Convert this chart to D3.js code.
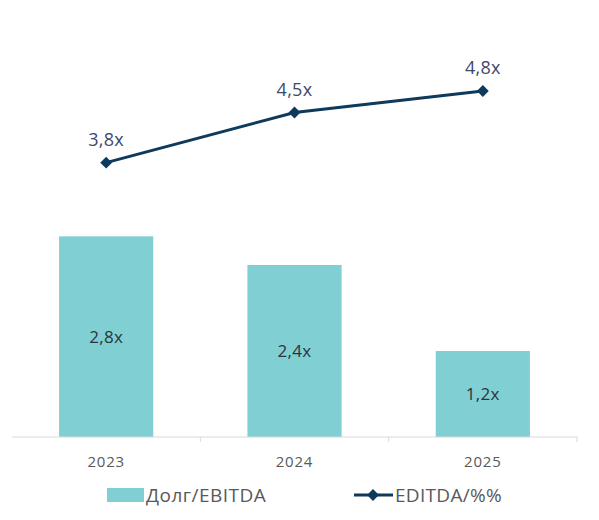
<!DOCTYPE html>
<html>
<head>
<meta charset="utf-8">
<script src="https://cdn.jsdelivr.net/npm/d3@7"></script>
<style>
  body { margin: 0; background: #fff; }
  text { font-family: "Open Sans", Lato, sans-serif; }
</style>
</head>
<body>
<svg id="chart"></svg>
<script>
// Debt/EBITDA bars with EBITDA line on top

const years = ["2023", "2024", "2025"];
const debtEbitda = [2.8, 2.4, 1.2];
const ebitdaLine = [3.8, 4.5, 4.8];
const barLabels = ["2,8x", "2,4x", "1,2x"];
const lineLabels = ["3,8x", "4,5x", "4,8x"];
const legendNames = ["Долг/EBITDA", "EDITDA/%%"];

const W = 599, H = 520;
const margin = { top: 7, right: 22, bottom: 83, left: 12 };
const width = W - margin.left - margin.right;
const height = H - margin.top - margin.bottom;

const barColor = "#80cfd2";
const lineColor = "#0e3a5c";

const svg = d3.select("#chart")
    .attr("width", W)
    .attr("height", H)
  .append("g")
    .attr("transform", "translate(" + margin.left + "," + margin.top + ")");

const x = d3.scaleBand()
    .domain(years)
    .range([0, width])
    .paddingInner(0.5)
    .paddingOuter(0.25);

// both series share one scale in the original
const y = d3.scaleLinear()
    .domain([0, 6])
    .range([height, 0]);

// bars
svg.selectAll("rect.bar")
  .data(debtEbitda)
  .enter()
  .append("rect")
    .attr("class", "bar")
    .attr("x", (d, i) => x(years[i]))
    .attr("y", d => y(d))
    .attr("width", x.bandwidth())
    .attr("height", d => height - y(d))
    .attr("fill", barColor);

svg.selectAll("text.barlab")
  .data(debtEbitda)
  .enter()
  .append("text")
    .attr("class", "barlab")
    .attr("x", (d, i) => x(years[i]) + x.bandwidth() / 2)
    .attr("y", d => (y(d) + height) / 2)
    .attr("dy", "0.35em")
    .attr("text-anchor", "middle")
    .style("font-size", "17px")
    .style("letter-spacing", "0.3px")
    .attr("fill", "#2b3440")
    .text((d, i) => barLabels[i]);

// x axis: baseline with ticks between categories
const axis = svg.append("g")
    .attr("transform", "translate(0," + height + ")");

axis.append("line")
    .attr("x1", 0).attr("x2", width)
    .attr("stroke", "#d9d9d9");

const step = x.step();
axis.selectAll("line.tick")
  .data(years)
  .enter()
  .append("line")
    .attr("class", "tick")
    .attr("x1", (d, i) => (i + 1) * step)
    .attr("x2", (d, i) => (i + 1) * step)
    .attr("y1", 0).attr("y2", 5)
    .attr("stroke", "#d9d9d9");

axis.selectAll("text")
  .data(years)
  .enter()
  .append("text")
    .attr("x", d => x(d) + x.bandwidth() / 2)
    .attr("y", 30)
    .attr("text-anchor", "middle")
    .style("font-size", "15px")
    .style("letter-spacing", "0.8px")
    .attr("fill", "#595959")
    .text(d => d);

// line series
const line = d3.line()
    .x((d, i) => x(years[i]) + x.bandwidth() / 2)
    .y(d => y(d) - 2);

svg.append("path")
    .datum(ebitdaLine)
    .attr("d", line)
    .attr("fill", "none")
    .attr("stroke", lineColor)
    .attr("stroke-width", 3);

const diamond = d3.symbol().type(d3.symbolSquare).size(70);

svg.selectAll("path.pt")
  .data(ebitdaLine)
  .enter()
  .append("path")
    .attr("class", "pt")
    .attr("d", diamond)
    .attr("transform", (d, i) => "translate(" + (x(years[i]) + x.bandwidth() / 2) + "," + (y(d) - 2) + ") rotate(45)")
    .attr("fill", lineColor);

svg.selectAll("text.linelab")
  .data(ebitdaLine)
  .enter()
  .append("text")
    .attr("class", "linelab")
    .attr("x", (d, i) => x(years[i]) + x.bandwidth() / 2)
    .attr("y", d => y(d) - 19)
    .attr("text-anchor", "middle")
    .style("font-size", "18px")
    .style("letter-spacing", "0.3px")
    .attr("fill", "#3d4a6b")
    .text((d, i) => lineLabels[i]);

// legend
const legend = d3.select("#chart").append("g")
    .attr("transform", "translate(0,495)");

legend.append("rect")
    .attr("x", 107).attr("y", -7)
    .attr("width", 37).attr("height", 14)
    .attr("fill", barColor);

legend.append("text")
    .attr("x", 146).attr("y", 0)
    .attr("dy", "0.35em")
    .style("font-size", "19px")
    .style("letter-spacing", "0.5px")
    .attr("fill", "#595959")
    .text(legendNames[0]);

legend.append("line")
    .attr("x1", 354).attr("x2", 393)
    .attr("stroke", lineColor)
    .attr("stroke-width", 3);

legend.append("path")
    .attr("d", diamond)
    .attr("transform", "translate(373,0) rotate(45)")
    .attr("fill", lineColor);

legend.append("text")
    .attr("x", 395).attr("y", 0)
    .attr("dy", "0.35em")
    .style("font-size", "19px")
    .style("letter-spacing", "0.3px")
    .attr("fill", "#595959")
    .text(legendNames[1]);
</script>
</body>
</html>
